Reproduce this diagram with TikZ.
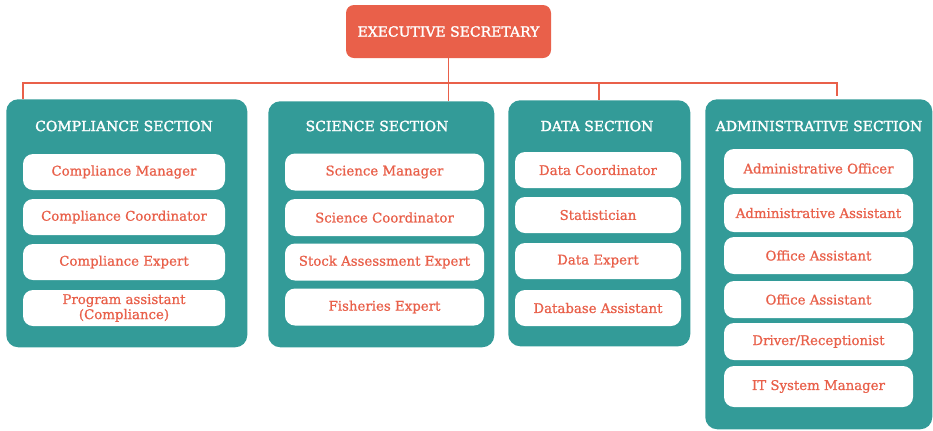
\documentclass[tikz,border=0pt]{standalone}
\usepackage{fontspec}
\setmainfont{DejaVu Serif}
\newfontfamily\headfont[FakeBold=1.8]{DejaVu Serif}
\newfontfamily\itemfont[FakeBold=0.8]{DejaVu Serif}
\usepackage{tikz}

\definecolor{tealbox}{RGB}{51,155,152}
\definecolor{redbox}{RGB}{233,96,74}

\begin{document}
\begin{tikzpicture}[x=0.75pt,y=0.75pt,yscale=-1,xscale=1,
  section/.style={fill=tealbox,draw=none,rounded corners=9pt,inner sep=0pt},
  head/.style={text=white,inner sep=0.75pt,font=\fontsize{10.5}{12}\headfont},
  item/.style={fill=white,rounded corners=7.5pt,inner sep=0pt,text=redbox,align=center,font=\fontsize{10}{11.3}\itemfont},
  tree/.style={draw=redbox,line width=1pt}]
\useasboundingbox (0,0) rectangle (933,430);

%Executive box
\node [fill=redbox,rounded corners=6pt,text=white,minimum width=205*0.75pt,minimum height=53*0.75pt,inner sep=0pt,font=\fontsize{10.5}{12}\headfont] (exec) at (448.5,31.5) {EXECUTIVE SECRETARY};

%Section boxes
\node [section,anchor=north west,minimum width=241*0.75pt,minimum height=248*0.75pt] (comp) at (6,99) {};
\node [section,anchor=north west,minimum width=226*0.75pt,minimum height=246*0.75pt] (sci) at (268,101) {};
\node [section,anchor=north west,minimum width=182*0.75pt,minimum height=246*0.75pt] (data) at (508,100) {};
\node [section,anchor=north west,minimum width=227*0.75pt,minimum height=330*0.75pt] (adm) at (705,99) {};

%Connector points
\coordinate (bus) at (0,83);
\coordinate (tc) at (23,99);
\coordinate (td) at (599,100);
\coordinate (ta) at (837,96);

%Straight Lines
\draw [tree] (tc) -- (tc |- bus) -- (ta |- bus) -- (ta);
\draw [tree] (exec.south) -- (exec.south |- sci.north);
\draw [tree] (td |- bus) -- (td);

% Text Node
\node [head] (hcomp) at (124,126) {COMPLIANCE SECTION};
% Text Node
\node [head] (hsci) at (377,126) {SCIENCE SECTION};
% Text Node
\node [head] (hdata) at (597,126) {DATA SECTION};
% Text Node
\node [head] (hadm) at (819,126) {ADMINISTRATIVE SECTION};

%Compliance section
\node [item,minimum width=202*0.75pt,minimum height=36*0.75pt] (c1) at (124,172) {Compliance Manager};
\node [item,minimum width=202*0.75pt,minimum height=36*0.75pt] (c2) at (124,217) {Compliance Coordinator};
\node [item,minimum width=202*0.75pt,minimum height=36*0.75pt] (c3) at (124,262) {Compliance Expert};
\node [item,minimum width=202*0.75pt,minimum height=36*0.75pt] (c4) at (124,308) {Program assistant\\(Compliance)};

%Science section
\node [item,minimum width=199*0.75pt,minimum height=37*0.75pt] (s1) at (384.5,172) {Science Manager};
\node [item,minimum width=199*0.75pt,minimum height=37*0.75pt] (s2) at (384.5,217.5) {Science Coordinator};
\node [item,minimum width=199*0.75pt,minimum height=37*0.75pt] (s3) at (384.5,262) {Stock Assessment Expert};
\node [item,minimum width=199*0.75pt,minimum height=37*0.75pt] (s4) at (384.5,307) {Fisheries Expert};

%Data section
\node [item,minimum width=166*0.75pt,minimum height=36*0.75pt] (d1) at (598,170) {Data Coordinator};
\node [item,minimum width=166*0.75pt,minimum height=36*0.75pt] (d2) at (598,215) {Statistician};
\node [item,minimum width=166*0.75pt,minimum height=36*0.75pt] (d3) at (598,261) {Data Expert};
\node [item,minimum width=166*0.75pt,minimum height=36*0.75pt] (d4) at (598,308) {Database Assistant};

%Administrative section
\node [item,minimum width=189*0.75pt,minimum height=39*0.75pt] (a1) at (818.5,168.5) {Administrative Officer};
\node [item,minimum width=189*0.75pt,minimum height=38*0.75pt] (a2) at (818.5,213) {Administrative Assistant};
\node [item,minimum width=189*0.75pt,minimum height=37*0.75pt] (a3) at (818.5,255.5) {Office Assistant};
\node [item,minimum width=189*0.75pt,minimum height=37*0.75pt] (a4) at (818.5,299.5) {Office Assistant};
\node [item,minimum width=189*0.75pt,minimum height=37*0.75pt] (a5) at (818.5,341.5) {Driver/Receptionist};
\node [item,minimum width=189*0.75pt,minimum height=41*0.75pt] (a6) at (818.5,386.5) {IT System Manager};

\end{tikzpicture}
\end{document}
